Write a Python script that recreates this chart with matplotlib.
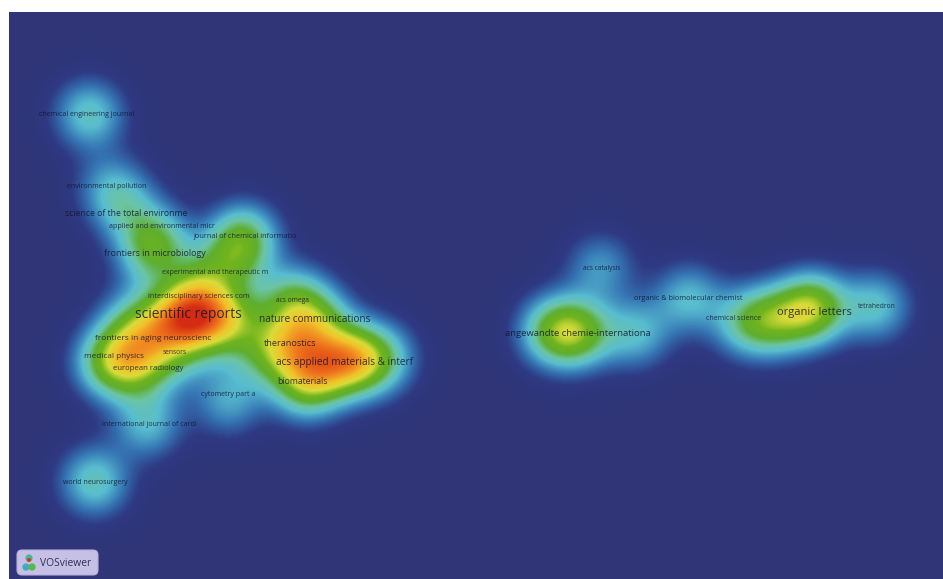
#!/usr/bin/env python3
# VOSviewer style density map of journals
import numpy as np
import matplotlib
matplotlib.use('Agg')
import matplotlib.pyplot as plt
from matplotlib.colors import LinearSegmentedColormap
from matplotlib.patches import FancyBboxPatch

plt.rcParams['font.family'] = ['Open Sans', 'DejaVu Sans']

# journals: label, label font size
labels = ['chemical engineering journal', 'environmental pollution', 'science of the total environme',
          'applied and environmental micr', 'frontiers in microbiology', 'journal of chemical informatio',
          'experimental and therapeutic m', 'interdisciplinary sciences com', 'scientific reports',
          'frontiers in aging neuroscienc', 'medical physics', 'sensors', 'european radiology',
          'acs omega', 'nature communications', 'theranostics', 'acs applied materials & interf',
          'biomaterials', 'cytometry part a', 'international journal of cardi', 'world neurosurgery',
          'angewandte chemie-internationa', 'acs catalysis', 'organic & biomolecular chemist',
          'chemical science', 'organic letters', 'tetrahedron']
label_x = [87, 107, 126, 162, 155, 245, 215, 199, 188, 153, 114, 175, 148, 292, 315, 290, 344, 302,
           228, 149, 95, 578, 602, 688, 734, 814, 877]
label_y = [114, 186, 213, 226, 254, 237, 273, 296, 315, 338, 357, 352, 369, 301, 320, 344, 362, 382,
           394, 424, 482, 334, 269, 299, 319, 312, 307]
label_size = [5, 5, 6.2, 5, 6.4, 5.3, 5, 5.2, 9.9, 6, 5.9, 4.8, 5.6, 4.8, 7.2, 6.6, 7.2, 6.2,
              5, 5, 5, 6.8, 4.8, 5.3, 5, 8, 4.8]

# density kernels: centre and height
node_x = [89, 110, 125, 155, 150, 243, 232, 205, 195, 188, 215, 160, 135, 130, 110, 140, 175, 240, 262,
          293, 318, 290, 350, 322, 305, 380, 228, 147, 94,
          553, 580, 636, 600, 688, 745, 775, 812, 875]
node_y = [114, 185, 208, 240, 258, 238, 262, 276, 298, 316, 322, 325, 340, 318, 362, 368, 352, 318, 354,
          300, 322, 345, 360, 366, 384, 358, 400, 423, 481,
          331, 332, 333, 267, 298, 322, 320, 308, 306]
node_h = [.26, .15, .18, .28, .16, .36, .18, .16, .16, .50, .34, .26, .22, .12, .40, .26, .18, .20, .20,
          .31, .30, .36, .50, .26, .36, .28, .19, .22, .27,
          .35, .35, .22, .17, .22, .25, .32, .50, .24]
kernel_s = 24.0

cmap_stops = [(0.0, '#2f3577'), (0.05, '#2e3a84'), (0.13, '#3575b4'), (0.23, '#58bdd0'),
              (0.31, '#6cc4a4'), (0.40, '#5fae2e'), (0.50, '#70b41e'), (0.60, '#d8dc3a'),
              (0.70, '#f2c22a'), (0.85, '#ee701c'), (1.0, '#d42c12')]

fig = plt.figure(figsize=(9.43, 5.79), dpi=100)
ax = fig.add_axes([0, 0, 1, 1])
ax.axis('off')

# density surface
X, Y = np.meshgrid(np.arange(9, 943, 1.0), np.arange(12, 579, 1.0))
Z = np.zeros_like(X)
for x, y, h in zip(node_x, node_y, node_h):
    Z += h*np.exp(-((X - x)**2 + (Y - y)**2)/(2*kernel_s**2))
cmap = LinearSegmentedColormap.from_list('vos', cmap_stops)
ax.imshow(Z, extent=(9, 943, 579, 12), cmap=cmap, vmin=0, vmax=1.0, interpolation='bilinear', aspect='auto')
ax.set_xlim(0, 943)
ax.set_ylim(579, 0)

for name, x, y, s in zip(labels, label_x, label_y, label_size):
    ax.text(x, y, name, fontsize=s, ha='center', va='center', color='#101030', alpha=0.8)

# logo box
ax.add_patch(FancyBboxPatch((17, 550), 81, 25, boxstyle='round,pad=0,rounding_size=5',
                            fc='#c6c0e6', ec='#b4aeda', lw=0.8))
ax.scatter([29, 26, 32, 29], [558, 567, 567, 560], s=[18, 18, 18, 4],
           c=['#46b6a0', '#46a8c0', '#58b850', '#d43a20'], zorder=3)
ax.text(40, 563, 'VOSviewer', fontsize=7.4, ha='left', va='center', color='#303050')

fig.savefig('out.png', dpi=100)
